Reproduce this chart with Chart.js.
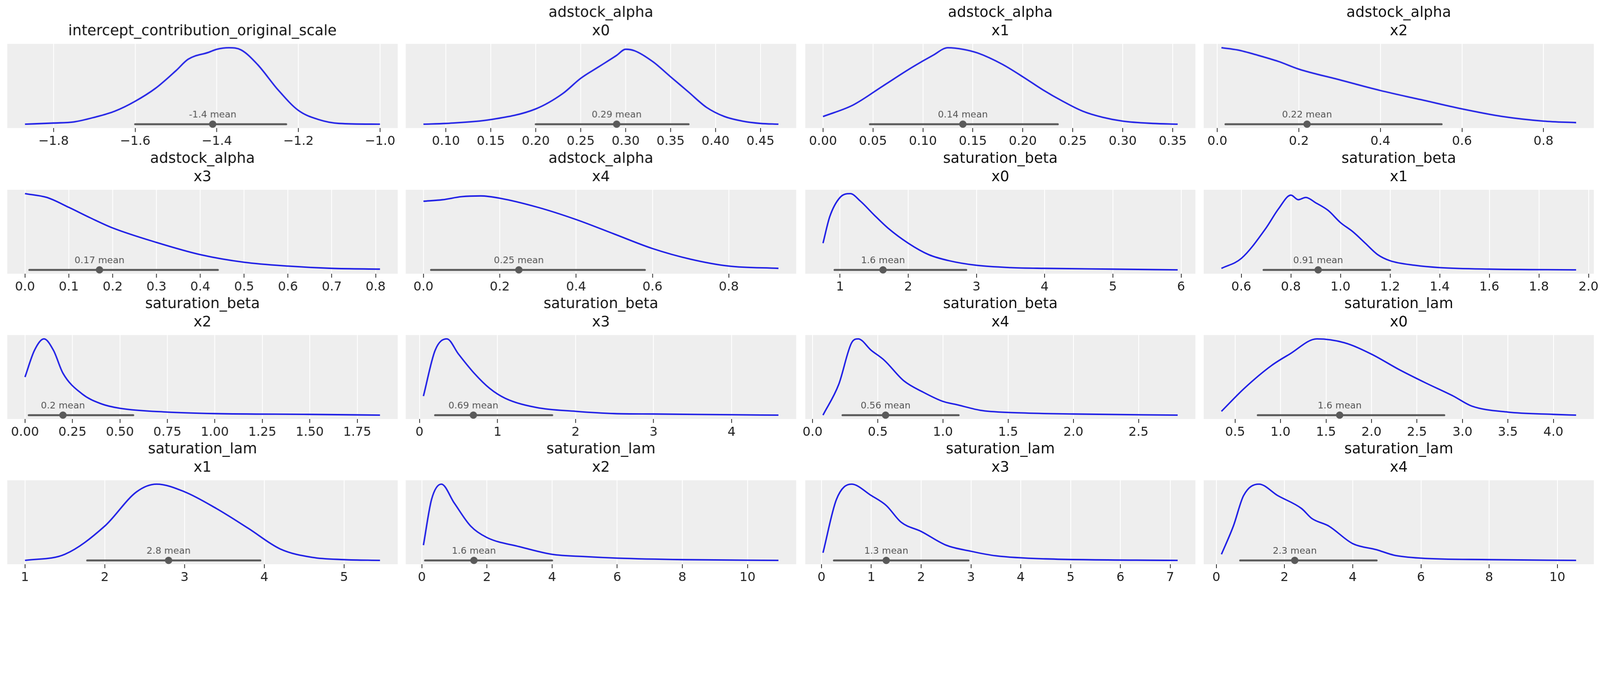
<!DOCTYPE html>
<html><head><meta charset="utf-8">
<script src="https://cdn.jsdelivr.net/npm/chart.js@4"></script>
<style>
html,body{margin:0;padding:0;background:#fff;overflow:hidden}
.p{position:absolute}
</style></head><body>
<script>
// ---- data ----
const titles = [
 ['', 'intercept_contribution_original_scale'],
 ['adstock_alpha','x0'],['adstock_alpha','x1'],['adstock_alpha','x2'],
 ['adstock_alpha','x3'],['adstock_alpha','x4'],['saturation_beta','x0'],['saturation_beta','x1'],
 ['saturation_beta','x2'],['saturation_beta','x3'],['saturation_beta','x4'],['saturation_lam','x0'],
 ['saturation_lam','x1'],['saturation_lam','x2'],['saturation_lam','x3'],['saturation_lam','x4']
];
const kdeX = [
 [-1.87,-1.8,-1.75,-1.7,-1.65,-1.6,-1.55,-1.5,-1.47,-1.42,-1.4,-1.37,-1.34,-1.3,-1.25,-1.2,-1.15,-1.1,-1.0],
 [0.075,0.1,0.15,0.2,0.23,0.25,0.27,0.29,0.3,0.31,0.33,0.35,0.37,0.39,0.41,0.43,0.45,0.47],
 [0,0.03,0.06,0.09,0.11,0.125,0.14,0.155,0.18,0.2,0.22,0.24,0.26,0.28,0.3,0.33,0.355],
 [0.01,0.05,0.1,0.15,0.2,0.3,0.4,0.5,0.6,0.7,0.8,0.88],
 [0,0.05,0.1,0.15,0.2,0.3,0.4,0.5,0.6,0.7,0.81],
 [0,0.05,0.1,0.15,0.2,0.3,0.4,0.5,0.6,0.7,0.8,0.93],
 [0.75,0.85,1.0,1.15,1.3,1.5,1.7,2.0,2.3,2.6,3.0,3.5,4.0,5.0,5.95],
 [0.52,0.6,0.7,0.75,0.8,0.83,0.86,0.9,0.95,1.0,1.05,1.1,1.15,1.2,1.3,1.4,1.6,1.95],
 [0,0.05,0.1,0.15,0.2,0.3,0.4,0.5,0.75,1.0,1.5,1.87],
 [0.05,0.2,0.35,0.5,0.7,0.9,1.1,1.5,2.0,2.5,3,4,4.6],
 [0.08,0.2,0.3,0.35,0.45,0.55,0.7,0.85,1.0,1.1,1.3,1.6,2.0,2.8],
 [0.35,0.6,0.9,1.1,1.4,1.7,2.0,2.3,2.6,2.9,3.1,3.5,4.0,4.25],
 [1.0,1.5,2.0,2.4,2.65,3.0,3.4,3.8,4.2,4.6,5.0,5.45],
 [0.05,0.3,0.6,1.0,1.5,2.0,3,4,5,6,8,10.95],
 [0.03,0.3,0.6,1.0,1.3,1.6,2.0,2.5,3,3.5,4.5,7.15],
 [0.15,0.5,0.8,1.25,1.8,2.5,2.8,3.3,4.0,4.7,5.2,6.0,8,10.55]
];
const kdeY = [
 [0,0.015,0.03,0.09,0.17,0.3,0.47,0.7,0.85,0.94,0.98,1.0,0.97,0.78,0.45,0.18,0.06,0.01,0],
 [0,0.01,0.06,0.2,0.4,0.6,0.75,0.9,0.98,0.96,0.82,0.62,0.42,0.22,0.1,0.04,0.01,0],
 [0.1,0.25,0.5,0.75,0.9,1.0,0.98,0.93,0.78,0.62,0.45,0.3,0.17,0.09,0.04,0.01,0],
 [1.0,0.97,0.9,0.82,0.72,0.58,0.44,0.32,0.2,0.1,0.04,0.02],
 [1,0.95,0.82,0.68,0.55,0.36,0.2,0.1,0.05,0.02,0.01],
 [0.9,0.92,0.96,0.97,0.94,0.82,0.66,0.47,0.28,0.14,0.05,0.02],
 [0.35,0.7,0.95,1.0,0.9,0.72,0.55,0.35,0.2,0.12,0.06,0.03,0.02,0.01,0],
 [0.02,0.15,0.55,0.8,0.98,0.92,0.95,0.88,0.78,0.62,0.5,0.35,0.2,0.12,0.06,0.03,0.01,0],
 [0.5,0.85,1.0,0.85,0.55,0.28,0.15,0.09,0.04,0.02,0.01,0],
 [0.25,0.85,1.0,0.8,0.55,0.35,0.22,0.1,0.05,0.02,0.015,0.005,0],
 [0,0.4,0.95,1.0,0.85,0.72,0.45,0.3,0.18,0.14,0.06,0.03,0.015,0],
 [0.05,0.35,0.65,0.8,1.0,0.95,0.8,0.6,0.42,0.25,0.12,0.04,0.01,0],
 [0,0.08,0.45,0.9,1.0,0.9,0.68,0.42,0.15,0.04,0.01,0],
 [0.2,0.8,1.0,0.75,0.45,0.3,0.18,0.08,0.05,0.03,0.01,0],
 [0.1,0.8,1.0,0.85,0.72,0.5,0.38,0.2,0.12,0.06,0.02,0],
 [0.08,0.45,0.85,1.0,0.85,0.68,0.55,0.45,0.22,0.14,0.07,0.03,0.01,0]
];
const hdiLow  = [-1.6,0.2,0.047,0.02,0.01,0.02,0.92,0.69,0.02,0.2,0.23,0.75,1.78,0.1,0.25,0.7];
const hdiHigh = [-1.23,0.37,0.235,0.55,0.44,0.58,2.85,1.2,0.57,1.7,1.12,2.8,3.95,4.0,2.95,4.7];
const means   = [-1.41,0.29,0.14,0.22,0.17,0.25,1.63,0.91,0.2,0.69,0.56,1.65,2.8,1.6,1.3,2.3];
const meanLabels = ['-1.4','0.29','0.14','0.22','0.17','0.25','1.6','0.91','0.2','0.69','0.56','1.6','2.8','1.6','1.3','2.3'];
const tickSteps = [0.2,0.05,0.05,0.2,0.1,0.2,1,0.2,0.25,1,0.5,0.5,1,2,1,2];
const tickDecimals = [1,2,2,1,1,1,0,1,2,0,1,1,0,0,0,0];

// ---- layout (reference pixels, scaled to viewport) ----
const S = (window.innerWidth || 4823) / 4823;
const colLeft = [22,1223,2427,3628], plotW = 1176;
const rowTop = [132,572,1010,1448], plotH = 253;
const PAD = 50, TOPH = 132, BOTH = 68;

const bgPlugin = {id:'bg', beforeDraw(c){const a=c.chartArea,x=c.ctx;x.save();x.fillStyle='#eeeeee';x.fillRect(a.left,a.top,a.right-a.left,a.bottom-a.top);x.restore();}};
const labelPlugin = {id:'meanlab', afterDatasetsDraw(c){
  const o=c.options.plugins.meanlab; const x=c.scales.x.getPixelForValue(o.v), y=c.scales.y.getPixelForValue(0);
  const ctx=c.ctx; ctx.save(); ctx.fillStyle='#555'; ctx.font=(28*S)+'px "DejaVu Sans"'; ctx.textAlign='center'; ctx.textBaseline='bottom';
  ctx.fillText(o.text+' mean', x, y-14*S); ctx.restore();}};

for(let i=0;i<16;i++){
  const r=Math.floor(i/4), col=i%4;
  const xs=kdeX[i]; const lo=Math.min(...xs), hi=Math.max(...xs), m=(hi-lo)*0.05;
  const W=(plotW+2*PAD)*S, H=(TOPH+plotH+BOTH)*S;
  const d=document.createElement('div'); d.className='p';
  d.style.left=((colLeft[col]-PAD)*S)+'px'; d.style.top=((rowTop[r]-TOPH)*S)+'px'; d.style.width=W+'px'; d.style.height=H+'px';
  const cv=document.createElement('canvas');
  cv.style.width=W+'px'; cv.style.height=H+'px';
  d.appendChild(cv); document.body.appendChild(d);
  const step=tickSteps[i], dec=tickDecimals[i];
  new Chart(cv,{type:'line',
    data:{datasets:[
      {data:xs.map((x,k)=>({x,y:kdeY[i][k]})),borderColor:'#2121e6',borderWidth:4.5*S,pointRadius:0,cubicInterpolationMode:'monotone',fill:false},
      {data:[{x:hdiLow[i],y:0},{x:hdiHigh[i],y:0}],borderColor:'#5a5a5a',borderWidth:6*S,pointRadius:0,borderCapStyle:'round'},
      {data:[{x:means[i],y:0}],showLine:false,pointRadius:11*S,pointBackgroundColor:'#5a5a5a',pointBorderWidth:0}
    ]},
    options:{responsive:true,maintainAspectRatio:false,animation:false,
      layout:{padding:{left:PAD*S,right:PAD*S,top:0,bottom:0}},
      plugins:{legend:{display:false},tooltip:{enabled:false},
        title:{display:true,text:titles[i],color:'#111',font:{family:'DejaVu Sans',size:44*S,weight:'normal',lineHeight:1.25},padding:{top:12*S,bottom:10*S}},
        meanlab:{v:means[i],text:meanLabels[i]}},
      scales:{
        x:{type:'linear',min:lo-m,max:hi+m,
          afterBuildTicks(s){s.ticks=[];const a=Math.ceil((lo-m)/step-1e-9),b=Math.floor((hi+m)/step+1e-9);for(let k=a;k<=b;k++)s.ticks.push({value:+(k*step).toFixed(6)});},
          afterFit(s){s.height=BOTH*S;},
          ticks:{color:'#222',font:{family:'DejaVu Sans',size:38*S},padding:6*S,maxRotation:0,autoSkip:false,
            callback:v=>(v<0?'\u2212':'')+Math.abs(v).toFixed(dec)},
          grid:{color:'#ffffff',lineWidth:2.5*S,tickColor:'#333',tickLength:12*S,drawOnChartArea:true},
          border:{display:false}},
        y:{display:false,min:-0.05,max:1.05}
      }},
    plugins:[bgPlugin,labelPlugin]});
}
</script></body></html>
